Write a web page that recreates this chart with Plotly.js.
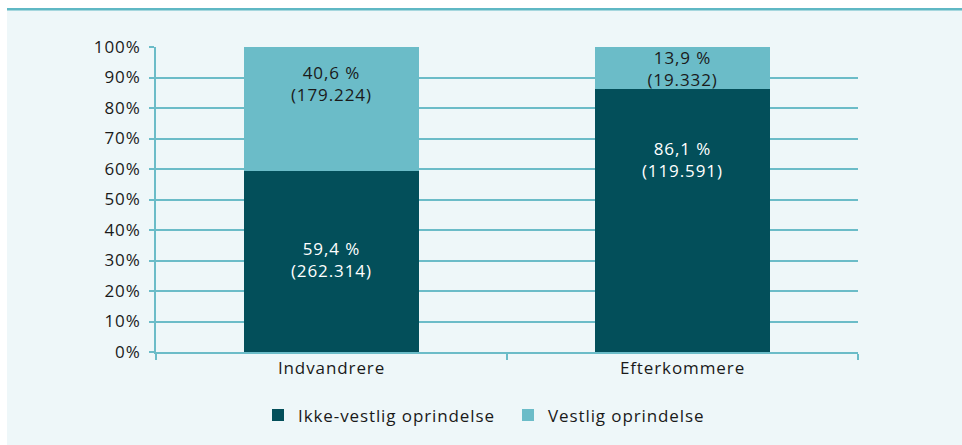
<!DOCTYPE html>
<html>
<head>
<meta charset="utf-8">
<script src="https://cdn.plot.ly/plotly-3.0.1.min.js"></script>
<style>
html,body{margin:0;padding:0;background:#fff;}
#chart{width:962px;height:445px;}
#chart text{letter-spacing:0.9px;}
</style>
</head>
<body>
<div id="chart"></div>
<script>
const categories = ["Indvandrere", "Efterkommere"];
const seriesNames = ["Ikke-vestlig oprindelse", "Vestlig oprindelse"];
const ikkeVestligPct = [59.4, 86.1];
const vestligPct = [40.6, 13.9];
const ikkeVestligAntal = [262314, 119591];
const vestligAntal = [179224, 19332];
const yTickVals = [0, 10, 20, 30, 40, 50, 60, 70, 80, 90, 100];
const yTickText = ["0%", "10%", "20%", "30%", "40%", "50%", "60%", "70%", "80%", "90%", "100%"];

function fmtPct(v) { return v.toFixed(1).replace(".", ",") + " %"; }
function fmtNum(n) { return String(n).replace(/\B(?=(\d{3})+(?!\d))/g, "."); }
function label(p, n) { return fmtPct(p) + "<br>(" + fmtNum(n) + ")"; }

const FONT = "Open Sans, Noto Sans, sans-serif";
const FS = 17;
const dark = "#034f5a", light = "#6bbcc8", grid = "#6bbcc8", bg = "#eef7f9";

// label placement inside each segment (fraction of segment height from its base)
const ikkeLabelFrac = [0.508, 0.732];
const vestLabelFrac = [0.704, 0.504];

const traces = [
  { type: "bar", name: seriesNames[0], x: categories, y: ikkeVestligPct,
    marker: { color: dark }, hoverinfo: "none" },
  { type: "bar", name: seriesNames[1], x: categories, y: vestligPct,
    marker: { color: light }, hoverinfo: "none" }
];

const annotations = [];
categories.forEach((c, i) => {
  annotations.push({ x: c, xref: "x", yref: "y", y: ikkeVestligPct[i] * ikkeLabelFrac[i],
    text: label(ikkeVestligPct[i], ikkeVestligAntal[i]), showarrow: false,
    font: { color: "#ffffff", size: FS, family: FONT }, xanchor: "center", yanchor: "middle", align: "center" });
  annotations.push({ x: c, xref: "x", yref: "y", y: ikkeVestligPct[i] + vestligPct[i] * vestLabelFrac[i],
    text: label(vestligPct[i], vestligAntal[i]), showarrow: false,
    font: { color: "#1a1a1a", size: FS, family: FONT }, xanchor: "center", yanchor: "middle", align: "center" });
});

// pixel -> paper helpers (plot area: x 156..858, y 47..355)
const L = 156, R = 858, T = 47, B = 355;
const px = v => (v - L) / (R - L);
const py = v => (B - v) / (B - T);

const layout = {
  width: 962, height: 445,
  margin: { l: L, r: 962 - R, t: T, b: 445 - B, pad: 0 },
  paper_bgcolor: bg, plot_bgcolor: bg,
  barmode: "stack", bargap: 0.5,
  font: { family: FONT, size: FS, color: "#1a1a1a" },
  showlegend: true,
  legend: { orientation: "h", x: px(258), xanchor: "left", y: py(419), yanchor: "middle",
            font: { size: FS, color: "#1a1a1a", family: FONT }, bgcolor: "rgba(0,0,0,0)",
            traceorder: "normal", itemwidth: 30, entrywidth: 205, entrywidthmode: "pixels" },
  xaxis: { type: "category", showgrid: false, showline: true, linecolor: grid, linewidth: 2,
           ticks: "outside", tickson: "boundaries", ticklen: 6, tickcolor: grid, tickwidth: 2,
           tickfont: { size: FS, family: FONT, color: "#1a1a1a" }, fixedrange: true },
  yaxis: { range: [0, 100], tickvals: yTickVals, ticktext: yTickText, showgrid: true, gridcolor: grid, gridwidth: 2,
           showline: true, linecolor: grid, linewidth: 2, ticks: "outside", ticklen: 5, tickcolor: grid, tickwidth: 2,
           ticklabelstandoff: 5,
           zeroline: false, tickfont: { size: FS, family: FONT, color: "#1a1a1a" }, fixedrange: true },
  annotations: annotations,
  shapes: [
    { type: "rect", xref: "paper", yref: "paper", x0: px(-5), x1: px(7), y0: py(460), y1: py(-5),
      fillcolor: "#ffffff", line: { width: 0 }, layer: "below" },
    { type: "rect", xref: "paper", yref: "paper", x0: px(-5), x1: px(970), y0: py(8), y1: py(-5),
      fillcolor: "#ffffff", line: { width: 0 }, layer: "below" },
    { type: "line", xref: "paper", yref: "paper", x0: px(7), x1: px(970), y0: py(9), y1: py(9),
      line: { color: "#5fb8c4", width: 2.5 }, layer: "above" }
  ]
};

Plotly.newPlot("chart", traces, layout, { displayModeBar: false, staticPlot: true });
</script>
</body>
</html>
